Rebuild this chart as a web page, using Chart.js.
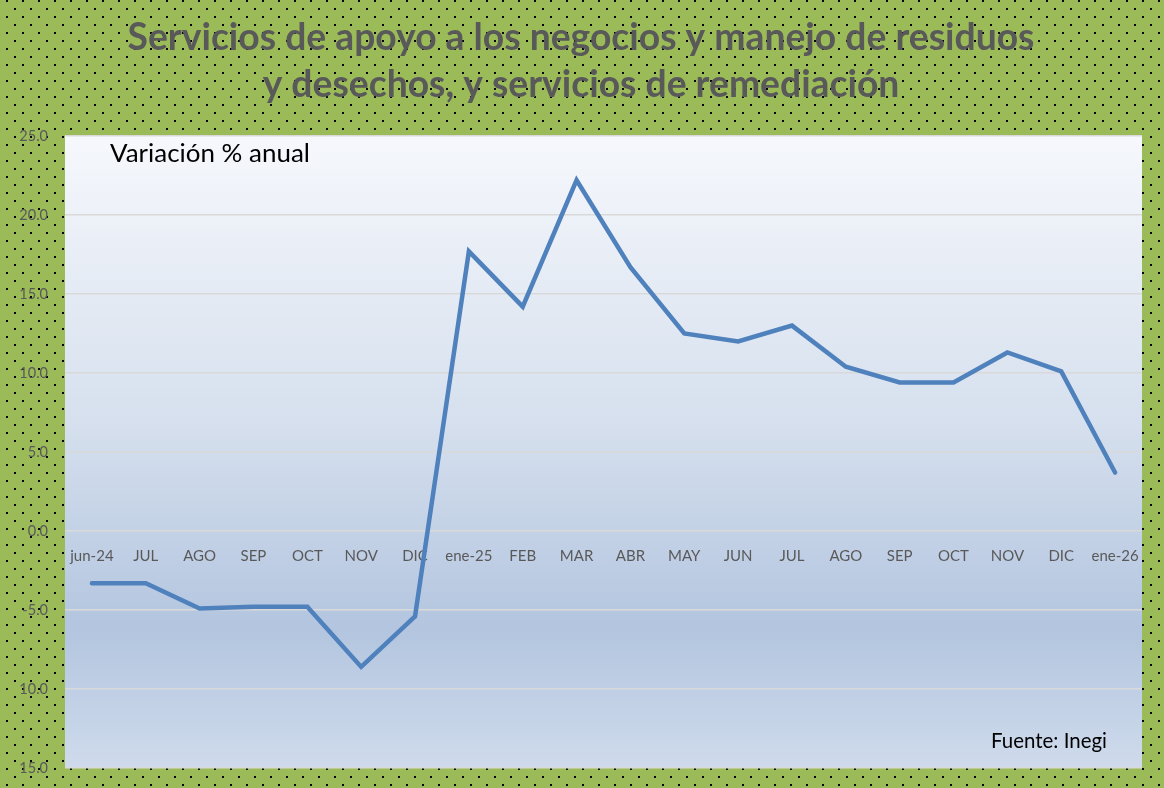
<!DOCTYPE html>
<html>
<head>
<meta charset="utf-8">
<script src="https://cdn.jsdelivr.net/npm/chart.js@4/dist/chart.umd.min.js"></script>
<style>
  html, body { margin: 0; padding: 0; background: #9BBB59; }
  #wrap { width: 1164px; height: 788px; }
</style>
</head>
<body>
<div id="wrap"><canvas id="c" width="1164" height="788"></canvas></div>
<script>
const categories = ['jun-24','JUL','AGO','SEP','OCT','NOV','DIC','ene-25','FEB','MAR','ABR','MAY','JUN','JUL','AGO','SEP','OCT','NOV','DIC','ene-26'];
const variacionAnual = [-3.3, -3.3, -4.9, -4.8, -4.8, -8.6, -5.4, 17.7, 14.2, 22.2, 16.7, 12.5, 12.0, 13.0, 10.4, 9.4, 9.4, 11.3, 10.1, 3.7];
const titleLines = ['Servicios de apoyo a los negocios y manejo de residuos', 'y desechos, y servicios de remediación'];
const subtitleText = 'Variación % anual';
const sourceText = 'Fuente: Inegi';
const yMin = -15, yMax = 25, yStep = 5;

const FONT = 'Lato';

// dotted green pattern
function makePattern(ctx) {
  const p = document.createElement('canvas');
  p.width = 16; p.height = 16;
  const g = p.getContext('2d');
  g.fillStyle = '#9BBB59';
  g.fillRect(0, 0, 16, 16);
  g.fillStyle = '#000000';
  g.fillRect(6, 0, 2, 2);
  g.fillRect(14, 8, 2, 2);
  return ctx.createPattern(p, 'repeat');
}

// fit font size to the reference width
function fitSize(text, weight, target, base) {
  const m = document.createElement('canvas').getContext('2d');
  m.font = weight + ' ' + base + 'px ' + FONT;
  const w = m.measureText(text).width;
  return base * target / w;
}

const bgPlugin = {
  id: 'bg',
  beforeDraw(chart) {
    const ctx = chart.ctx;
    const a = chart.chartArea;
    ctx.save();
    ctx.fillStyle = makePattern(ctx);
    ctx.fillRect(0, 0, chart.width, chart.height);
    const grad = ctx.createLinearGradient(0, a.top, 0, a.bottom);
    grad.addColorStop(0, '#F6F8FC');
    grad.addColorStop(0.45, '#D6E0EE');
    grad.addColorStop(0.78, '#B3C5DF');
    grad.addColorStop(1, '#CFDBEC');
    ctx.fillStyle = grad;
    ctx.fillRect(a.left, a.top, a.right - a.left, a.bottom - a.top);
    ctx.restore();
  }
};

const textPlugin = {
  id: 'notes',
  afterDraw(chart) {
    const ctx = chart.ctx;
    const a = chart.chartArea;
    ctx.save();
    ctx.fillStyle = '#000000';
    ctx.textBaseline = 'middle';
    ctx.textAlign = 'left';
    ctx.font = fitSize(subtitleText, 'normal', 200, 20).toFixed(2) + 'px ' + FONT;
    ctx.fillText(subtitleText, a.left + 45, a.top + 18);
    ctx.textAlign = 'right';
    ctx.font = fitSize(sourceText, 'normal', 116, 17).toFixed(2) + 'px ' + FONT;
    ctx.fillText(sourceText, a.right - 35, a.bottom - 27);
    ctx.restore();
  }
};

const titleSize = fitSize(titleLines[0], 'bold', 907, 36);

new Chart(document.getElementById('c'), {
  type: 'line',
  data: {
    labels: categories,
    datasets: [{
      label: 'Variación % anual',
      data: variacionAnual,
      borderColor: '#4F81BD',
      backgroundColor: '#4F81BD',
      borderWidth: 4.5,
      pointRadius: 0,
      pointHoverRadius: 0,
      tension: 0,
      borderCapStyle: 'round',
      borderJoinStyle: 'miter',
      fill: false
    }]
  },
  options: {
    responsive: false,
    animation: false,
    devicePixelRatio: 1,
    layout: { padding: { left: 20, right: 22, top: 0, bottom: 20 } },
    plugins: {
      legend: { display: false },
      tooltip: { enabled: false },
      title: {
        display: true,
        text: titleLines,
        color: '#595959',
        font: { family: FONT, weight: 'bold', size: titleSize, lineHeight: 47 / titleSize },
        padding: { top: 14, bottom: 28 }
      }
    },
    scales: {
      x: {
        type: 'category',
        offset: true,
        position: { y: 0 },
        afterFit(scale) { scale.height = 0; },
        grid: { display: false, drawTicks: false },
        border: { display: false },
        ticks: {
          color: '#595959',
          font: { family: FONT, size: 15 },
          padding: 16,
          maxRotation: 0,
          autoSkip: false
        }
      },
      y: {
        min: yMin,
        max: yMax,
        afterFit(scale) { scale.width = 45; scale.paddingTop = 0; scale.paddingBottom = 0; },
        grid: { color: '#D9D9D9', lineWidth: 1.5, drawTicks: false },
        border: { display: false },
        ticks: {
          stepSize: yStep,
          color: '#595959',
          font: { family: FONT, size: 14.5 },
          padding: 17,
          callback: (v) => Number(v).toFixed(1)
        }
      }
    }
  },
  plugins: [bgPlugin, textPlugin]
});
</script>
</body>
</html>
